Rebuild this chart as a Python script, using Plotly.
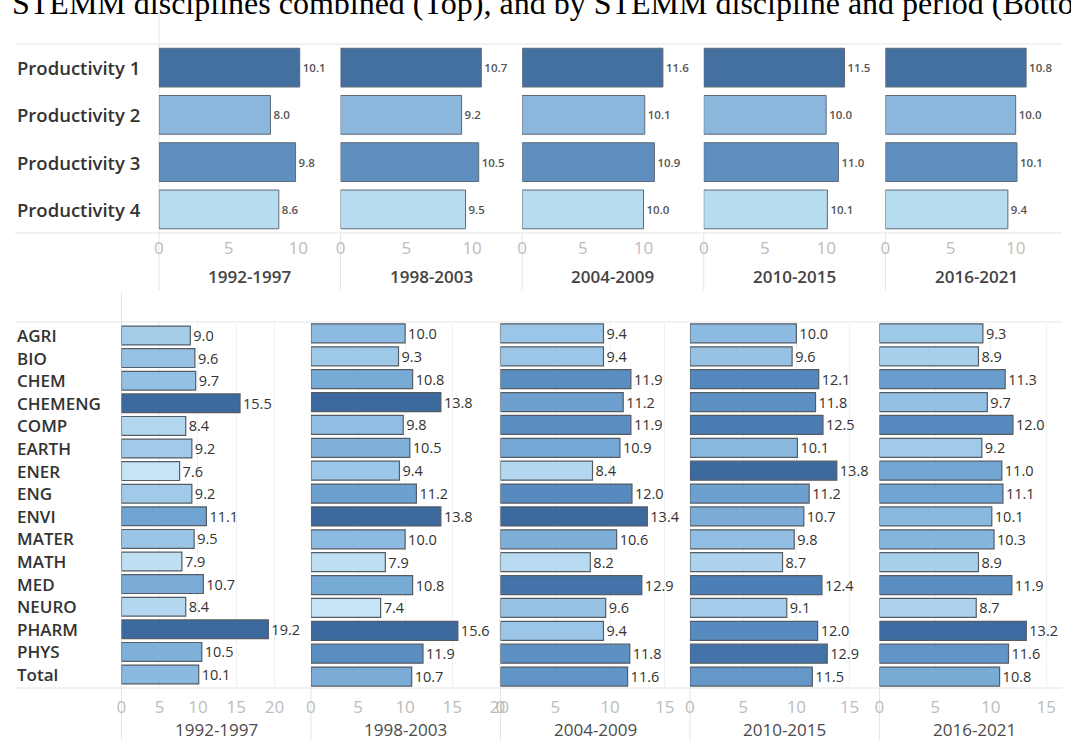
import plotly.graph_objects as go

W, H = 1071, 740

# ---------------- data ----------------
periods = ["1992-1997", "1998-2003", "2004-2009", "2010-2015", "2016-2021"]

prod_labels = ["Productivity 1", "Productivity 2", "Productivity 3", "Productivity 4"]
prod_1 = [10.1, 10.7, 11.6, 11.5, 10.8]
prod_2 = [8.0, 9.2, 10.1, 10.0, 10.0]
prod_3 = [9.8, 10.5, 10.9, 11.0, 10.1]
prod_4 = [8.6, 9.5, 10.0, 10.1, 9.4]

disciplines = ["AGRI", "BIO", "CHEM", "CHEMENG", "COMP", "EARTH", "ENER", "ENG",
               "ENVI", "MATER", "MATH", "MED", "NEURO", "PHARM", "PHYS", "Total"]
disc_1992_1997 = [9.0, 9.6, 9.7, 15.5, 8.4, 9.2, 7.6, 9.2, 11.1, 9.5, 7.9, 10.7, 8.4, 19.2, 10.5, 10.1]
disc_1998_2003 = [10.0, 9.3, 10.8, 13.8, 9.8, 10.5, 9.4, 11.2, 13.8, 10.0, 7.9, 10.8, 7.4, 15.6, 11.9, 10.7]
disc_2004_2009 = [9.4, 9.4, 11.9, 11.2, 11.9, 10.9, 8.4, 12.0, 13.4, 10.6, 8.2, 12.9, 9.6, 9.4, 11.8, 11.6]
disc_2010_2015 = [10.0, 9.6, 12.1, 11.8, 12.5, 10.1, 13.8, 11.2, 10.7, 9.8, 8.7, 12.4, 9.1, 12.0, 12.9, 11.5]
disc_2016_2021 = [9.3, 8.9, 11.3, 9.7, 12.0, 9.2, 11.0, 11.1, 10.1, 10.3, 8.9, 11.9, 8.7, 13.2, 11.6, 10.8]

title_text = "STEMM disciplines combined (Top), and by STEMM discipline and period (Bottom)"

# ---------------- styles ----------------
prod_rows = [prod_1, prod_2, prod_3, prod_4]
disc_cols = [disc_1992_1997, disc_1998_2003, disc_2004_2009, disc_2010_2015, disc_2016_2021]

ROW_COLORS = ["#44709f", "#8cb7dc", "#5f8fbf", "#b7dcf0"]
DISC_SCALE = [[0, "#c6e4f5"], [0.3, "#9ec8e8"], [0.6, "#72a5d3"], [0.85, "#4b7eb5"], [1, "#3c6a9f"]]
COLOR_MIN, COLOR_MAX = 7.6, 13.3
FONT = "Open Sans"
GRID = "#e4e4e4"
HEADROOM = 1.29

TOP_LEFT, TOP_W = 156, 184
BOT_LEFT, BOT_W = 118, 192
TOP_Y = (44, 233)
BOT_Y = (322, 688)


def fx(p):
    return p / W


def fy(p):
    return 1 - p / H


def sfx(k):
    return "" if k == 1 else str(k)


fig = go.Figure()
layout = {}
annotations = []
shapes = []

# ---------------- top section ----------------
for i, per in enumerate(periods):
    k = i + 1
    s = sfx(k)
    vals = [row[i] for row in prod_rows]
    fig.add_trace(go.Bar(
        x=vals, y=prod_labels, orientation="h",
        xaxis=f"x{s}", yaxis=f"y{s}",
        marker=dict(color=ROW_COLORS, line=dict(color="#5e6a76", width=1)),
        width=0.82,
        text=[f"{v:.1f}" for v in vals], textposition="outside",
        textfont=dict(size=11.5, color="#555555", family=FONT, weight=600),
        constraintext="none", cliponaxis=False, hoverinfo="skip", showlegend=False,
    ))
    left = TOP_LEFT + TOP_W * i
    right = min(left + TOP_W, W)
    frac = (right - left) / TOP_W
    layout[f"xaxis{s}"] = dict(
        domain=[fx(left), fx(right)], anchor=f"y{s}",
        range=[0, max(vals) * HEADROOM * frac], tickvals=[0, 5, 10],
        showgrid=False, zeroline=False, showline=False, ticks="",
        tickfont=dict(size=17, color="#bcbcbc", family=FONT),
        ticklabelstandoff=3,
        fixedrange=True,
    )
    layout[f"yaxis{s}"] = dict(
        domain=[fy(TOP_Y[1]), fy(TOP_Y[0])], anchor=f"x{s}",
        categoryorder="array", categoryarray=prod_labels, autorange="reversed",
        showticklabels=False, showgrid=False, zeroline=False, showline=False,
        fixedrange=True,
    )
    annotations.append(dict(
        text=per, xref="paper", x=fx(left + TOP_W / 2), yref="paper", y=fy(276),
        xanchor="center", yanchor="middle", showarrow=False,
        font=dict(size=17, color="#444444", family=FONT, weight=600),
    ))

for lab in prod_labels:
    annotations.append(dict(
        text=lab, xref="paper", x=fx(10), yref="y", y=lab,
        xanchor="left", yanchor="middle", showarrow=False,
        font=dict(size=18.5, color="#333333", family=FONT, weight=600),
    ))

# ---------------- bottom section ----------------
for i, per in enumerate(periods):
    k = i + 6
    s = sfx(k)
    vals = disc_cols[i]
    fig.add_trace(go.Bar(
        x=vals, y=disciplines, orientation="h",
        xaxis=f"x{s}", yaxis=f"y{s}",
        marker=dict(color=vals, colorscale=DISC_SCALE, cmin=COLOR_MIN, cmax=COLOR_MAX,
                    line=dict(color="#555c63", width=1.2)),
        width=0.83,
        text=[f"{v:.1f}" for v in vals], textposition="outside",
        textfont=dict(size=14.5, color="#333333", family=FONT, weight=500),
        constraintext="none", cliponaxis=False, hoverinfo="skip", showlegend=False,
    ))
    left = BOT_LEFT + BOT_W * i
    right = min(left + BOT_W, W)
    frac = (right - left) / BOT_W
    layout[f"xaxis{s}"] = dict(
        domain=[fx(left), fx(right)], anchor=f"y{s}",
        range=[0, max(vals) * HEADROOM * frac], tick0=0, dtick=5,
        showgrid=True, gridcolor="#f1f1f1", zeroline=False, showline=False, ticks="",
        tickfont=dict(size=17, color="#bcbcbc", family=FONT),
        ticklabelstandoff=7,
        fixedrange=True,
    )
    layout[f"yaxis{s}"] = dict(
        domain=[fy(BOT_Y[1]), fy(BOT_Y[0])], anchor=f"x{s}",
        categoryorder="array", categoryarray=disciplines, autorange="reversed",
        showticklabels=False, showgrid=False, zeroline=False, showline=False,
        fixedrange=True,
    )
    annotations.append(dict(
        text=per, xref="paper", x=fx(left + BOT_W / 2), yref="paper", y=fy(729),
        xanchor="center", yanchor="middle", showarrow=False,
        font=dict(size=17, color="#4a4a4a", family=FONT, weight=500),
    ))

for lab in disciplines:
    annotations.append(dict(
        text=lab, xref="paper", x=fx(10), yref="y6", y=lab,
        xanchor="left", yanchor="middle", showarrow=False,
        font=dict(size=17, color="#333333", family=FONT, weight=600),
    ))

# ---------------- title (cropped at top as in the source image) ----------------
annotations.append(dict(
    text=title_text, xref="paper", x=fx(5), yref="paper", y=fy(23),
    xanchor="left", yanchor="bottom", showarrow=False,
    font=dict(size=32, color="#000000", family="Liberation Serif"),
))

# ---------------- separator lines ----------------
def hline(y, x0=10, x1=W):
    shapes.append(dict(type="line", xref="paper", yref="paper",
                       x0=fx(x0), x1=fx(x1), y0=fy(y), y1=fy(y),
                       line=dict(color=GRID, width=1), layer="below"))


def vline(x, y0, y1):
    shapes.append(dict(type="line", xref="paper", yref="paper",
                       x0=fx(x), x1=fx(x), y0=fy(y0), y1=fy(y1),
                       line=dict(color=GRID, width=1), layer="below"))


hline(TOP_Y[0])
hline(TOP_Y[1])
vline(TOP_LEFT, 14, 290)
for i in range(1, 5):
    vline(TOP_LEFT + TOP_W * i, TOP_Y[1], 290)

hline(BOT_Y[0])
hline(BOT_Y[1])
vline(BOT_LEFT, 292, H)
for i in range(1, 5):
    vline(BOT_LEFT + BOT_W * i, BOT_Y[1], H)

fig.update_layout(
    width=W, height=H,
    margin=dict(l=0, r=0, t=0, b=0),
    paper_bgcolor="white", plot_bgcolor="white",
    annotations=annotations, shapes=shapes,
    showlegend=False,
    **layout,
)

# the page's default 8px body margin would shift the whole figure; remove it
fig.write_html("out.html", config={"displayModeBar": False},
               post_script="document.body.style.margin='0';")
